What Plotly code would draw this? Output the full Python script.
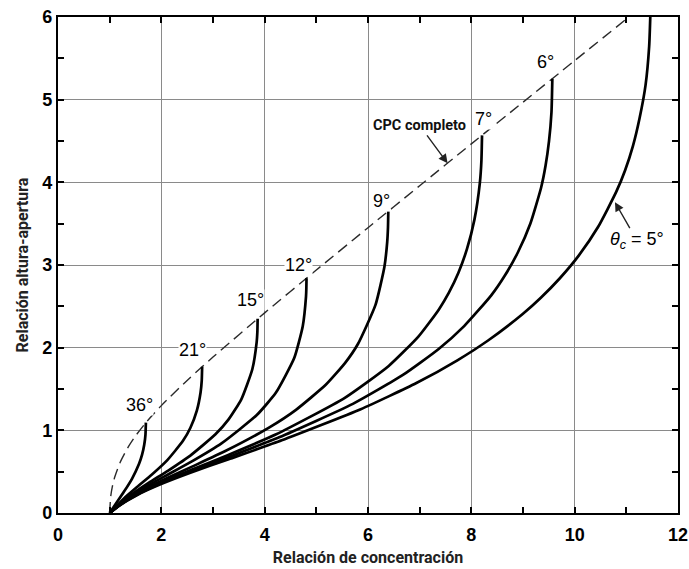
import plotly.graph_objects as go

# Full CPC (dashed): concentration ratio vs height/aperture ratio
cpc_x = [1.0, 1.02, 1.05, 1.1, 1.2, 1.35, 1.5, 1.7, 2.0, 2.5, 3.0, 4.0, 5.0, 6.0, 7.0, 8.0, 9.0, 10.0, 11.0, 11.05]
cpc_y = [0.0, 0.199, 0.313, 0.438, 0.608, 0.789, 0.932, 1.092, 1.299, 1.604, 1.886, 2.421, 2.939, 3.451, 3.959, 4.465, 4.969, 5.472, 5.975, 6.0]

# Truncated CPC curves, one per acceptance angle
angles = ["36°", "21°", "15°", "12°", "9°", "7°", "6°", "5°"]
curve_x = {
    "36°": [1.0, 1.275, 1.432, 1.569, 1.626, 1.670, 1.693, 1.701],
    "21°": [1.0, 1.272, 1.536, 1.818, 2.116, 2.419, 2.563, 2.687, 2.760, 2.782, 2.790],
    "15°": [1.0, 1.432, 1.761, 2.134, 2.561, 3.043, 3.298, 3.548, 3.761, 3.844, 3.859, 3.864],
    "12°": [1.0, 1.363, 1.711, 2.114, 2.591, 3.164, 3.848, 4.219, 4.572, 4.737, 4.800, 4.807, 4.810],
    "9°":  [1.0, 1.284, 1.646, 2.074, 2.595, 3.248, 4.092, 4.606, 5.187, 5.558, 5.805, 6.145, 6.318, 6.372, 6.387, 6.393],
    "7°":  [1.0, 1.227, 1.597, 2.038, 2.584, 3.284, 4.223, 5.544, 6.401, 6.975, 7.369, 7.563, 7.748, 7.916, 8.060, 8.165, 8.195, 8.207],
    "6°":  [1.0, 1.197, 1.570, 2.018, 2.574, 3.296, 4.280, 5.707, 6.676, 7.362, 7.861, 8.385, 8.646, 8.902, 9.143, 9.351, 9.436, 9.504, 9.551, 9.568],
    "5°":  [1.0, 1.166, 1.542, 1.995, 2.562, 3.304, 4.331, 5.859, 6.937, 7.730, 8.331, 8.994, 9.345, 9.709, 10.082, 10.452, 10.806, 10.975, 11.127, 11.257, 11.372, 11.442, 11.474],
}
curve_y = {
    "36°": [0.0, 0.256, 0.414, 0.595, 0.702, 0.828, 0.948, 1.093],
    "21°": [0.0, 0.174, 0.317, 0.466, 0.640, 0.873, 1.031, 1.238, 1.461, 1.601, 1.769],
    "15°": [0.0, 0.228, 0.366, 0.514, 0.695, 0.949, 1.129, 1.375, 1.739, 2.061, 2.196, 2.349],
    "12°": [0.0, 0.184, 0.320, 0.460, 0.624, 0.842, 1.185, 1.457, 1.875, 2.260, 2.617, 2.725, 2.841],
    "9°":  [0.0, 0.141, 0.277, 0.411, 0.561, 0.752, 1.036, 1.248, 1.554, 1.816, 2.044, 2.518, 2.979, 3.281, 3.456, 3.651],
    "7°":  [0.0, 0.111, 0.249, 0.380, 0.523, 0.700, 0.952, 1.390, 1.779, 2.134, 2.460, 2.663, 2.904, 3.194, 3.549, 3.994, 4.261, 4.568],
    "6°":  [0.0, 0.097, 0.235, 0.365, 0.504, 0.675, 0.915, 1.320, 1.670, 1.981, 2.261, 2.633, 2.870, 3.154, 3.502, 3.938, 4.200, 4.501, 4.848, 5.254],
    "5°":  [0.0, 0.081, 0.221, 0.350, 0.487, 0.651, 0.879, 1.255, 1.572, 1.847, 2.090, 2.407, 2.604, 2.837, 3.117, 3.459, 3.887, 4.144, 4.438, 4.778, 5.176, 5.646, 6.213],
}

# Angle labels (text, x, y)
label_text = ["36°", "21°", "15°", "12°", "9°", "7°", "6°"]
label_x = [1.58, 2.61, 3.72, 4.65, 6.27, 8.24, 9.44]
label_y = [1.31, 1.97, 2.58, 3.00, 3.78, 4.77, 5.46]

x_ticks = [0, 2, 4, 6, 8, 10, 12]
y_ticks = [0, 1, 2, 3, 4, 5, 6]

fig = go.Figure()

fig.add_trace(go.Scatter(
    x=cpc_x, y=cpc_y, mode="lines",
    line=dict(color="#2a2a2a", width=1.4, dash="11px,6px", shape="spline", smoothing=0.6),
    hoverinfo="skip", showlegend=False))

for a in angles:
    fig.add_trace(go.Scatter(
        x=curve_x[a], y=curve_y[a], mode="lines",
        line=dict(color="black", width=2.7, shape="spline", smoothing=0.5),
        name=a, showlegend=False))

for t, lx, ly in zip(label_text, label_x, label_y):
    fig.add_annotation(x=lx, y=ly, text=t, showarrow=False,
                       font=dict(family="Liberation Sans", size=18, color="black"),
                       bgcolor="white", borderpad=0)

# "CPC completo" label with arrow to dashed line
fig.add_annotation(x=7.54, y=4.23, ax=7.0, ay=4.69, axref="x", ayref="y",
                   text="CPC completo", showarrow=True, arrowhead=2, arrowsize=1.3,
                   arrowwidth=1.4, arrowcolor="#222",
                   font=dict(family="Roboto", size=14.5, color="#111", weight="bold"),
                   bgcolor="white", borderpad=1)

# theta_c = 5° label with arrow to the 5° curve
fig.add_annotation(x=10.78, y=3.76, ax=11.2, ay=3.30, axref="x", ayref="y",
                   text="<i>θ</i><sub><i>c</i></sub> = 5°", showarrow=True, arrowhead=2,
                   arrowsize=1.3, arrowwidth=1.4, arrowcolor="#222",
                   font=dict(family="Liberation Sans", size=18, color="black"),
                   bgcolor="white", borderpad=0)

axis_common = dict(
    showline=True, linecolor="black", linewidth=2.2, mirror="ticks",
    ticks="inside", ticklen=5, tickcolor="black", tickwidth=1.5,
    showgrid=True, gridcolor="#8a8a8a", gridwidth=1,
    zeroline=False, ticklabeloverflow="allow", automargin=False,
    tickfont=dict(family="Liberation Sans", size=18, color="black", weight="bold"),
)

fig.update_layout(
    width=689, height=569,
    margin=dict(l=58, r=11, t=17, b=56, autoexpand=False),
    paper_bgcolor="white", plot_bgcolor="white",
    xaxis=dict(range=[0, 12], tickvals=x_ticks, ticktext=[str(v) for v in x_ticks],
               ticklabelstandoff=4,
               minor=dict(ticks="inside", ticklen=6, tickcolor="black", tickwidth=1.5, dtick=1, showgrid=False),
               title=dict(text="Relación de concentración", standoff=8,
                          font=dict(family="Roboto", size=16, color="#222", weight="bold")),
               **axis_common),
    yaxis=dict(range=[0, 6], tickvals=y_ticks, ticktext=[str(v) for v in y_ticks],
               minor=dict(ticks="inside", ticklen=6, tickcolor="black", tickwidth=1.5, dtick=0.5, showgrid=False),
               title=dict(text="Relación altura-apertura", standoff=10,
                          font=dict(family="Roboto", size=16, color="#222", weight="bold")),
               **axis_common),
)

fig.write_html("out.html")
